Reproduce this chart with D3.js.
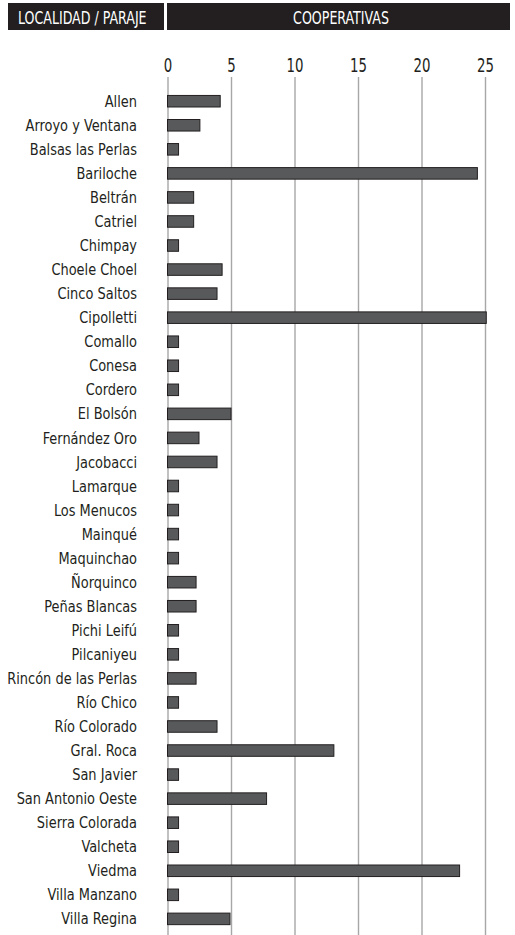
<!doctype html>
<html>
<head>
    <meta charset="utf-8">
    <script src="https://d3js.org/d3.v7.min.js"></script>
</head>
<style>
    body { margin: 0; background: #fff; }
    svg text {
        font-family: "DejaVu Sans Condensed", "Liberation Sans Narrow", sans-serif;
    }
</style>
<body>
    <div id="chart"></div>
    <script>
        // localidades y cantidad de cooperativas
        var localidades = ["Allen", "Arroyo y Ventana", "Balsas las Perlas", "Bariloche", "Beltrán", "Catriel",
            "Chimpay", "Choele Choel", "Cinco Saltos", "Cipolletti", "Comallo", "Conesa", "Cordero", "El Bolsón",
            "Fernández Oro", "Jacobacci", "Lamarque", "Los Menucos", "Mainqué", "Maquinchao", "Ñorquinco",
            "Peñas Blancas", "Pichi Leifú", "Pilcaniyeu", "Rincón de las Perlas", "Río Chico", "Río Colorado",
            "Gral. Roca", "San Javier", "San Antonio Oeste", "Sierra Colorada", "Valcheta", "Viedma",
            "Villa Manzano", "Villa Regina"];
        var cooperativas = [4.15, 2.55, 0.87, 24.4, 2.06, 2.06,
            0.87, 4.3, 3.9, 25.1, 0.87, 0.87, 0.87, 5.0,
            2.48, 3.9, 0.87, 0.87, 0.87, 0.87, 2.25,
            2.25, 0.87, 0.87, 2.25, 0.87, 3.9,
            13.1, 0.87, 7.8, 0.87, 0.87, 23.0,
            0.87, 4.92];
        var ticks = [0, 5, 10, 15, 20, 25];
        var headers = ["LOCALIDAD / PARAJE", "COOPERATIVAS"];

        var width = 515,
            height = 935;

        var svg = d3.select("#chart")
                    .append("svg")
                    .attr("width", width)
                    .attr("height", height);

        var x = d3.scaleLinear().domain([0, 25]).range([167.5, 485]);
        var y = d3.scaleBand()
                  .domain(localidades)
                  .range([89.2, 930.9])
                  .paddingInner(0.52)
                  .paddingOuter(0.26);

        // encabezado negro
        var head = [{x0: 8, x1: 164}, {x0: 167, x1: 510}];
        svg.selectAll("rect.head")
           .data(head)
           .enter()
           .append("rect")
           .attr("class", "head")
           .attr("x", function(d) { return d.x0; })
           .attr("y", 3)
           .attr("width", function(d) { return d.x1 - d.x0; })
           .attr("height", 27)
           .attr("fill", "#231f20");

        // texto angosto: se escala horizontalmente
        svg.append("text")
           .attr("transform", "translate(18,24) scale(0.78,1)")
           .attr("fill", "#fff")
           .attr("font-size", "18px")
           .text(headers[0]);

        svg.append("text")
           .attr("transform", "translate(341,24) scale(0.78,1)")
           .attr("fill", "#fff")
           .attr("font-size", "18px")
           .attr("text-anchor", "middle")
           .text(headers[1]);

        // eje superior con lineas de grilla
        var axis = d3.axisTop(x)
                     .tickValues(ticks)
                     .tickSize(-(935 - 77))
                     .tickPadding(5);

        var gAxis = svg.append("g")
           .attr("transform", "translate(0,77)")
           .call(axis);
        gAxis.select(".domain").remove();
        gAxis.selectAll(".tick line")
             .attr("stroke", "#a7a7a7")
             .attr("stroke-width", 1.4);
        gAxis.selectAll(".tick text")
             .attr("fill", "#231f20")
             .attr("font-size", "19px")
             .attr("font-family", "\"DejaVu Sans Condensed\", sans-serif")
             .attr("transform", "scale(0.78,1)");

        // barras
        svg.selectAll("rect.bar")
           .data(cooperativas)
           .enter()
           .append("rect")
           .attr("class", "bar")
           .attr("x", x(0))
           .attr("y", function(d, i) { return y(localidades[i]); })
           .attr("width", function(d) { return x(d) - x(0); })
           .attr("height", y.bandwidth())
           .attr("fill", "#58595b")
           .attr("stroke", "#231f20")
           .attr("stroke-width", 1);

        // etiquetas
        svg.selectAll("text.label")
           .data(localidades)
           .enter()
           .append("text")
           .attr("class", "label")
           .attr("transform", function(d) {
               return "translate(137," + (y(d) + y.bandwidth() / 2) + ") scale(0.9,1)";
           })
           .attr("dy", ".35em")
           .attr("text-anchor", "end")
           .attr("font-size", "16px")
           .attr("fill", "#231f20")
           .text(function(d) { return d; });
    </script>
</body>
</html>
